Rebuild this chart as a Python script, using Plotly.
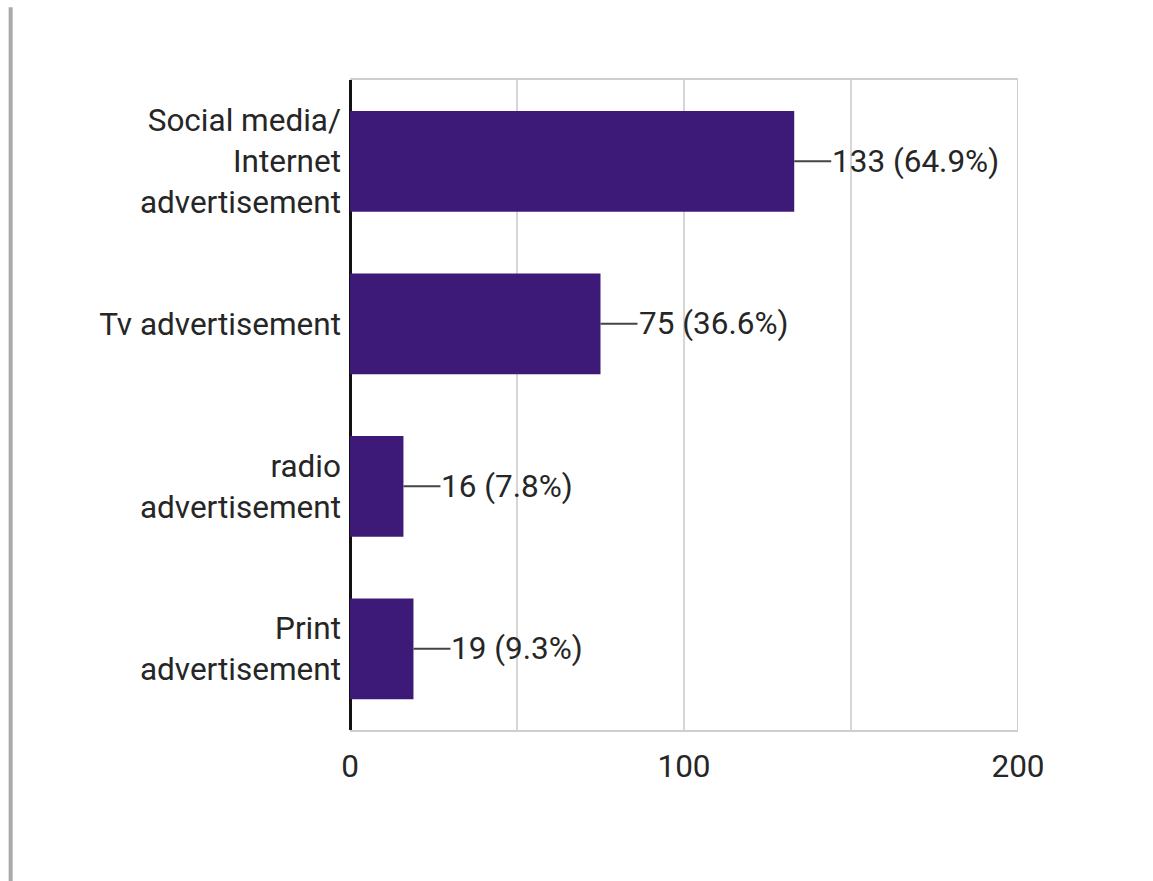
import plotly.graph_objects as go

categories = ["Social media/<br>Internet<br>advertisement", "Tv advertisement",
              "radio<br>advertisement", "Print<br>advertisement"]
counts = [133, 75, 16, 19]
percents = [64.9, 36.6, 7.8, 9.3]
x_tickvals = [0, 50, 100, 150, 200]
x_ticktext = ["0", "", "100", "", "200"]

BAR_COLOR = "#3e1a78"
TEXT_COLOR = "#262626"
FONT = "Roboto"
FONT_SIZE = 31.5

fig = go.Figure(go.Bar(
    x=counts, y=categories, orientation="h",
    marker=dict(color=BAR_COLOR, line=dict(width=0)),
    hoverinfo="skip",
))

# value labels joined to the bar end by a short leader line
for cat, n, p in zip(categories, counts, percents):
    fig.add_annotation(
        x=n, y=cat, xref="x", yref="y",
        text=f"{n} ({p}%)", showarrow=True, arrowhead=0,
        arrowwidth=2, arrowcolor="#444", ax=37, ay=0,
        xanchor="left", borderpad=0, standoff=0,
        font=dict(family=FONT, size=FONT_SIZE, color=TEXT_COLOR),
    )

# right edge of the plot frame
fig.add_shape(type="line", xref="x", yref="paper", x0=200, x1=200, y0=0, y1=1,
              line=dict(color="#cfcfcf", width=2))
# page border on the left
fig.add_shape(type="line", xref="paper", yref="paper",
              x0=-0.508, x1=-0.508, y0=-0.235, y1=1.112,
              line=dict(color="#aaaaaa", width=4))

fig.update_layout(
    width=1153, height=881,
    margin=dict(l=350, r=135, t=80, b=151),
    paper_bgcolor="white", plot_bgcolor="white",
    showlegend=False, bargap=0.38,
    font=dict(family=FONT, size=FONT_SIZE, color=TEXT_COLOR),
    xaxis=dict(
        range=[0, 200], tickvals=x_tickvals, ticktext=x_ticktext,
        showgrid=True, gridcolor="#d6d6d6", gridwidth=2,
        zeroline=True, zerolinecolor="#111", zerolinewidth=3,
        showline=True, mirror=True, linecolor="#cfcfcf", linewidth=2,
        ticks="", ticklabelstandoff=7, fixedrange=True,
    ),
    yaxis=dict(
        autorange="reversed", showgrid=False, zeroline=False,
        showline=False, ticks="", ticklabelstandoff=8, fixedrange=True,
    ),
)

fig.write_html("out.html")
